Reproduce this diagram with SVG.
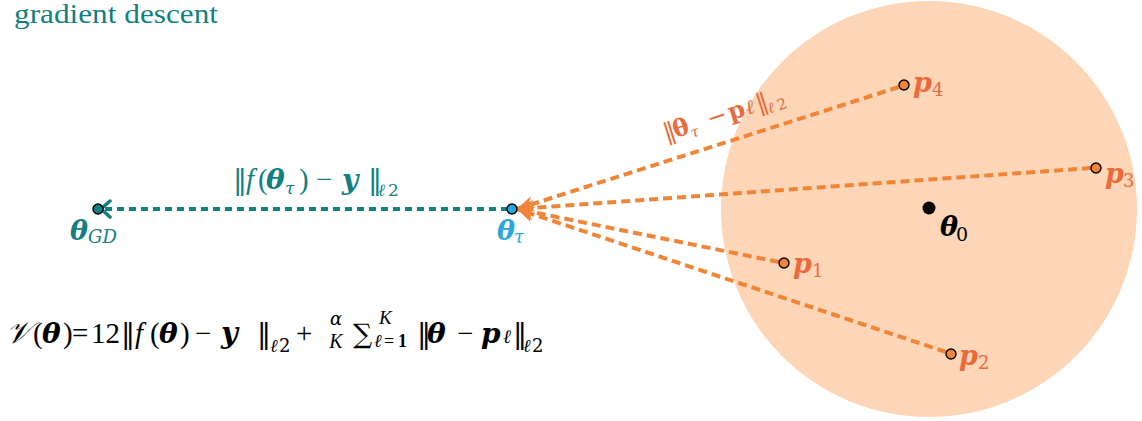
<svg xmlns="http://www.w3.org/2000/svg" width="1142" height="421" viewBox="0 0 1142 421">
<style>
.D{font-family:"DejaVu Serif","Liberation Serif",serif;}
.L{font-family:"Liberation Serif","DejaVu Serif",serif;}
.bi{font-weight:bold;font-style:italic;}
.b{font-weight:bold;}
.it{font-style:italic;}
.teal{fill:#11807f;}
.org{fill:#ea6a3c;}
.pt{fill:#f08538;stroke:#000;stroke-width:1.4;}
.ol{stroke:#f08538;stroke-width:4;stroke-dasharray:9,5;fill:none;}
.tl{stroke:#11807f;stroke-width:4;stroke-dasharray:7,5;fill:none;}
</style>
<defs>
<marker id="ao" markerUnits="userSpaceOnUse" markerWidth="24" markerHeight="24" refX="0" refY="0" viewBox="-20 -12 24 24" orient="auto">
<path d="M0,0 L-17,-8 L-12,0 L-17,8 Z" fill="#f08538"/>
</marker>
<marker id="at" markerUnits="userSpaceOnUse" markerWidth="20" markerHeight="20" refX="0" refY="0" viewBox="-16 -10 20 20" orient="auto">
<path d="M-9,-8 L0,0 L-9,8" fill="none" stroke="#11807f" stroke-width="3.5" stroke-linecap="round" stroke-linejoin="round"/>
</marker>
</defs>
<text class="L teal" x="14" y="23" font-size="28" textLength="204" lengthAdjust="spacingAndGlyphs">gradient descent</text>
<circle cx="929" cy="209" r="208" fill="#fcd6b6"/>
<g id="connectors">
<line class="tl" x1="508" y1="209" x2="101" y2="209" marker-end="url(#at)"/>
<line class="ol" x1="899" y1="87" x2="517" y2="209" marker-end="url(#ao)"/>
<line class="ol" x1="1091" y1="168" x2="517" y2="209" marker-end="url(#ao)"/>
<line class="ol" x1="779" y1="262" x2="517" y2="209" marker-end="url(#ao)"/>
<line class="ol" x1="946" y1="352" x2="517" y2="209" marker-end="url(#ao)"/>
<text class="D org" font-size="24" transform="translate(666,141) rotate(-17.6)"><tspan x="0">‖</tspan><tspan x="10" class="b">θ</tspan><tspan x="26" dy="5" font-size="15" class="it">τ</tspan><tspan x="46" dy="-5">−</tspan><tspan x="68" class="b">p</tspan><tspan x="86" class="it" font-size="20">ℓ</tspan><tspan x="97">‖</tspan><tspan x="107" dy="5" font-size="15" class="it">ℓ</tspan><tspan x="117" font-size="15">2</tspan></text>
<text class="teal" font-size="28" y="189"><tspan class="D" x="233">‖</tspan><tspan class="L it" x="246" font-size="29">f</tspan><tspan class="L" x="258" font-size="29">(</tspan><tspan x="266" class="D bi">θ</tspan><tspan x="285" dy="5" font-size="17" class="D it">τ</tspan><tspan class="L" x="299" dy="-5" font-size="29">)</tspan><tspan class="L" x="316" font-size="29">−</tspan><tspan x="342" class="D bi">y</tspan><tspan class="D" x="368">‖</tspan><tspan x="378" dy="7" font-size="17" class="D it">ℓ</tspan><tspan class="D" x="388" font-size="17">2</tspan></text>
</g>
<g id="theta_gd">
<circle cx="98" cy="209" r="5" fill="#11807f" stroke="#000" stroke-width="1.4"/>
<text class="D teal" font-size="27" y="240"><tspan x="70" class="bi">θ</tspan><tspan x="88" dy="3" class="it" font-size="18">GD</tspan></text>
</g>
<g id="theta_tau">
<circle cx="512" cy="209" r="5" fill="#29a6df" stroke="#000" stroke-width="1.4"/>
<text class="D" fill="#29a6df" font-size="27" y="240"><tspan x="497" class="bi">θ</tspan><tspan x="514" dy="3" class="it" font-size="18">τ</tspan></text>
</g>
<g id="theta0">
<circle cx="929" cy="208" r="6.5" fill="#000"/>
<text class="D" fill="#000" font-size="27" y="236"><tspan x="940" class="bi">θ</tspan><tspan x="956" dy="5" font-size="19">0</tspan></text>
</g>
<g id="p4">
<circle class="pt" cx="904" cy="85" r="5"/>
<text class="D org" font-size="27" y="92"><tspan x="913" class="bi">p</tspan><tspan x="932" dy="4" font-size="18">4</tspan></text>
</g>
<g id="p3">
<circle class="pt" cx="1096" cy="168" r="5"/>
<text class="D org" font-size="27" y="183"><tspan x="1105" class="bi">p</tspan><tspan x="1123" dy="4" font-size="18">3</tspan></text>
</g>
<g id="p1">
<circle class="pt" cx="784" cy="263" r="5"/>
<text class="D org" font-size="27" y="273"><tspan x="793" class="bi">p</tspan><tspan x="812" dy="4" font-size="18">1</tspan></text>
</g>
<g id="p2">
<circle class="pt" cx="951" cy="354" r="5"/>
<text class="D org" font-size="27" y="365"><tspan x="959" class="bi">p</tspan><tspan x="978" dy="4" font-size="18">2</tspan></text>
</g>
<g id="formula" fill="#000">
<text class="D it" font-size="30" x="6" y="343">𝒱</text>
<text font-size="29" y="343"><tspan class="L" x="33">(</tspan><tspan x="42" class="D bi" font-size="28">θ</tspan><tspan class="L" x="63">)</tspan><tspan class="L" x="72">=</tspan><tspan class="L" x="91">12</tspan><tspan class="D" x="121" font-size="28">‖</tspan><tspan class="L it" x="135">f</tspan><tspan class="L" x="150">(</tspan><tspan x="159" class="D bi" font-size="28">θ</tspan><tspan class="L" x="180">)</tspan><tspan class="L" x="195">−</tspan><tspan x="221" class="D bi" font-size="29">y</tspan><tspan class="D" x="257" font-size="28">‖</tspan></text>
<text class="D" font-size="18" y="352"><tspan x="270" class="it">ℓ</tspan><tspan x="279">2</tspan></text>
<text class="L" font-size="29" x="296" y="343">+</text>
<text class="D it" font-size="18" x="336" y="325" text-anchor="middle">α</text>
<text class="L it" font-size="20" x="336" y="348" text-anchor="middle">K</text>
<text class="D" font-size="27" x="353" y="343">∑</text>
<text class="L it" font-size="19" x="379" y="324">K</text>
<text font-size="18" y="347"><tspan x="374" class="D it">ℓ</tspan><tspan x="384" class="L">=</tspan><tspan x="398" class="L b">1</tspan></text>
<text font-size="28" y="343"><tspan class="D" x="417">‖</tspan><tspan x="427" class="D bi">θ</tspan><tspan x="457" class="L" font-size="29">−</tspan><tspan x="481" class="D bi">p</tspan><tspan x="503" class="D it" font-size="19">ℓ</tspan><tspan class="D" x="513">‖</tspan></text>
<text class="D" font-size="18" y="352"><tspan x="523" class="it">ℓ</tspan><tspan x="532">2</tspan></text>
</g>
</svg>
